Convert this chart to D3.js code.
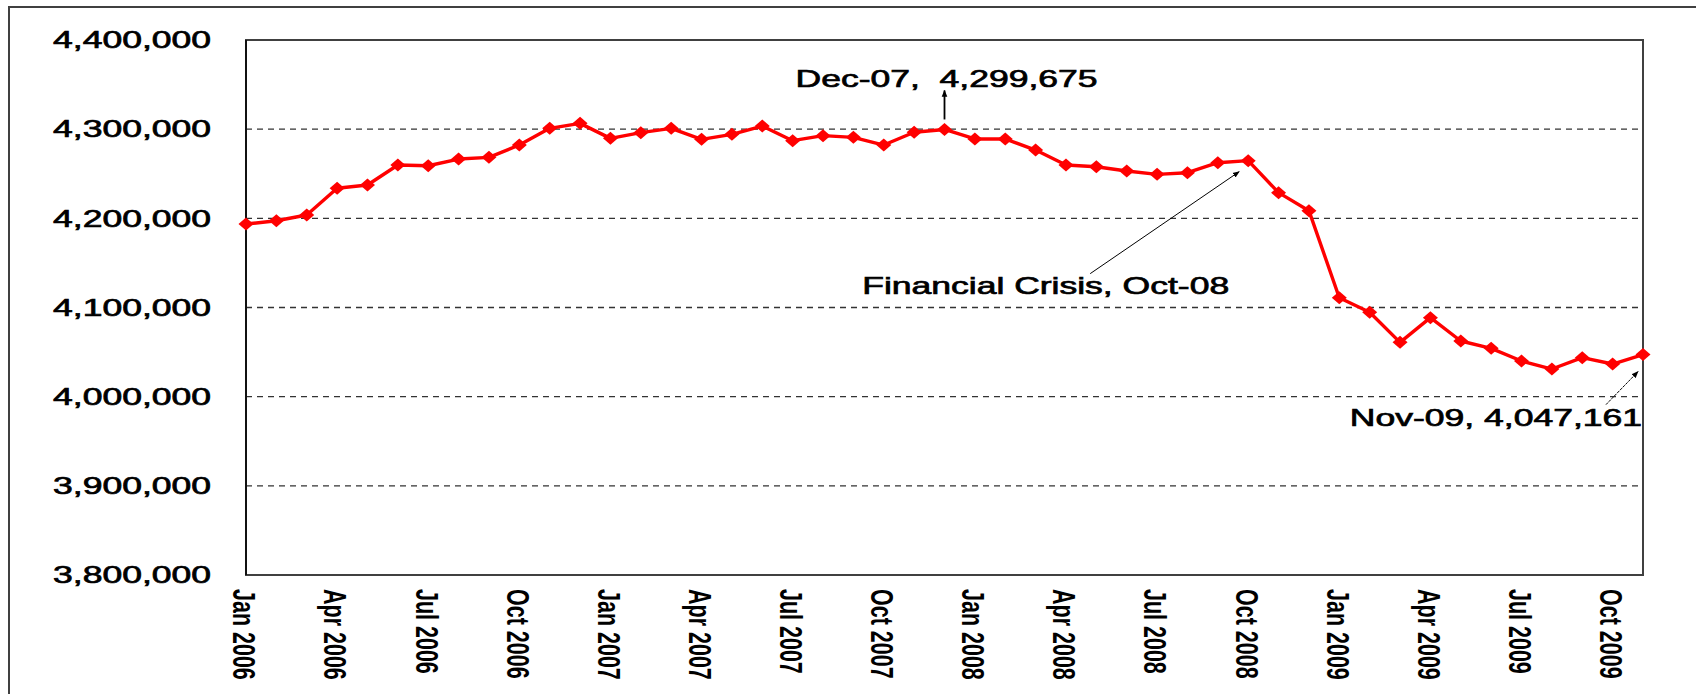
<!DOCTYPE html>
<html>
<head>
<meta charset="utf-8">
<script src="https://cdn.jsdelivr.net/npm/d3@7"></script>
<style>
  html, body { margin: 0; padding: 0; background: #fff; }
  svg { display: block; }
  text { font-family: "Liberation Sans", Arial, sans-serif; fill: #000; }
</style>
</head>
<body>
<svg id="chart" width="1696" height="694"></svg>
<script>
const months = [
  "Jan 2006","Feb 2006","Mar 2006","Apr 2006","May 2006","Jun 2006","Jul 2006","Aug 2006","Sep 2006","Oct 2006","Nov 2006","Dec 2006",
  "Jan 2007","Feb 2007","Mar 2007","Apr 2007","May 2007","Jun 2007","Jul 2007","Aug 2007","Sep 2007","Oct 2007","Nov 2007","Dec 2007",
  "Jan 2008","Feb 2008","Mar 2008","Apr 2008","May 2008","Jun 2008","Jul 2008","Aug 2008","Sep 2008","Oct 2008","Nov 2008","Dec 2008",
  "Jan 2009","Feb 2009","Mar 2009","Apr 2009","May 2009","Jun 2009","Jul 2009","Aug 2009","Sep 2009","Oct 2009","Nov 2009"
];
const values = [
  4193600, 4197300, 4203700, 4233700, 4237400, 4259800, 4259000, 4266500, 4268400, 4282200, 4300900, 4306500,
  4289700, 4296100, 4300900, 4288600, 4294200, 4303500, 4287100, 4292700, 4290800, 4282200, 4296500, 4299675,
  4289000, 4289000, 4276600, 4259800, 4257900, 4253100, 4249300, 4251200, 4262400, 4264700, 4228800, 4208600,
  4111000, 4094600, 4060900, 4088600, 4062400, 4054200, 4040000, 4031000, 4043700, 4036600, 4047161
];
const xTickLabels = [
  "Jan 2006","Apr 2006","Jul 2006","Oct 2006","Jan 2007","Apr 2007","Jul 2007","Oct 2007",
  "Jan 2008","Apr 2008","Jul 2008","Oct 2008","Jan 2009","Apr 2009","Jul 2009","Oct 2009"
];
const yTicks = [3800000, 3900000, 4000000, 4100000, 4200000, 4300000, 4400000];
const annotations = [
  { month: "Dec 2007", text: "Dec-07,  4,299,675" },
  { month: "Oct 2008", text: "Financial Crisis, Oct-08" },
  { month: "Nov 2009", text: "Nov-09, 4,047,161" }
];

const svg = d3.select("#chart");
const L = 246, R = 1643, T = 40, B = 575;
const SX = 1.48; // horizontal stretch of the original picture's text

const x = d3.scalePoint().domain(months).range([L, R]);
const y = d3.scaleLinear().domain([3800000, 4400000]).range([B, T]);

// outer frame
svg.append("rect").attr("x", 9).attr("y", 7).attr("width", 1720).attr("height", 720)
  .attr("fill", "none").attr("stroke", "#404040").attr("stroke-width", 2);

// gridlines
svg.append("g").selectAll("line")
  .data(yTicks.filter(d => d > 3800000 && d < 4400000))
  .join("line")
  .attr("x1", L).attr("x2", R)
  .attr("y1", d => y(d)).attr("y2", d => y(d))
  .attr("stroke", "#333").attr("stroke-width", 1.3)
  .attr("stroke-dasharray", "6,5");

// plot frame
svg.append("rect").attr("x", L).attr("y", T).attr("width", R - L).attr("height", B - T)
  .attr("fill", "none").attr("stroke", "#404040").attr("stroke-width", 2);
svg.append("line").attr("x1", L).attr("x2", L).attr("y1", T).attr("y2", B)
  .attr("stroke", "#111").attr("stroke-width", 2);

function medium(sel) {
  sel.style("font-weight", "normal")
    .attr("stroke", "#000").attr("stroke-width", 0.7)
    .attr("fill", "#000");
}

// y axis
const gy = svg.append("g").attr("transform", `translate(${L},0)`)
  .call(d3.axisLeft(y).tickValues(yTicks).tickFormat(d3.format(",")).tickSize(0));
gy.select(".domain").remove();
gy.selectAll("text")
  .attr("x", 0)
  .attr("dy", "0.32em")
  .attr("transform", `translate(-35,0) scale(${SX},1)`)
  .style("font-size", "24px")
  .style("font-family", "'Liberation Sans', Arial, sans-serif")
  .call(medium);

// x axis
const gx = svg.append("g").attr("transform", `translate(0,${B})`)
  .call(d3.axisBottom(x).tickValues(xTickLabels).tickSize(0));
gx.select(".domain").remove();
gx.selectAll("text")
  .attr("x", 0).attr("y", 0).attr("dy", "0.35em")
  .attr("text-anchor", "start")
  .attr("transform", `translate(-2,14) scale(${SX},1) rotate(90)`)
  .style("font-size", "21.5px")
  .style("font-family", "'Liberation Sans', Arial, sans-serif")
  .style("font-weight", "bold")
  .attr("fill", "#000");

// line
const line = d3.line().x((d, i) => x(months[i])).y(d => y(d));
svg.append("path").datum(values)
  .attr("d", line)
  .attr("fill", "none").attr("stroke", "#ff0000").attr("stroke-width", 3.4)
  .attr("stroke-linejoin", "round");

// diamond markers
svg.append("g").selectAll("path")
  .data(values)
  .join("path")
  .attr("transform", (d, i) => `translate(${x(months[i])},${y(d)})`)
  .attr("d", "M0,-6.5L7.5,0L0,6.5L-7.5,0Z")
  .attr("fill", "#ff0000");

// arrow marker
const defs = svg.append("defs");
defs.append("marker").attr("id", "arr").attr("viewBox", "0 0 10 10")
  .attr("refX", 9).attr("refY", 5).attr("markerWidth", 7).attr("markerHeight", 7)
  .attr("orient", "auto-start-reverse").attr("markerUnits", "userSpaceOnUse")
  .append("path").attr("d", "M0,1L10,5L0,9Z").attr("fill", "#000");

const val = m => values[months.indexOf(m)];

// Dec-07 annotation
{
  const a = annotations[0];
  const px = x(a.month), py = y(val(a.month));
  svg.append("line").attr("x1", px).attr("x2", px).attr("y1", py - 10).attr("y2", py - 39)
    .attr("stroke", "#000").attr("stroke-width", 1.8).attr("marker-end", "url(#arr)");
  svg.append("text").attr("transform", `translate(${px - 149},${py - 42}) scale(${SX},1)`)
    .style("white-space", "pre").style("font-size", "24px").text(a.text).call(medium);
}
// Financial crisis annotation
{
  const a = annotations[1];
  const px = x(a.month), py = y(val(a.month));
  svg.append("line").attr("x1", px - 158).attr("x2", px - 9).attr("y1", py + 113).attr("y2", py + 11)
    .attr("stroke", "#000").attr("stroke-width", 1).attr("marker-end", "url(#arr)");
  svg.append("text").attr("transform", `translate(${px - 386},${py + 133}) scale(${SX},1)`)
    .style("font-size", "24px").text(a.text).call(medium);
}
// Nov-09 annotation
{
  const a = annotations[2];
  const px = x(a.month), py = y(val(a.month));
  svg.append("line").attr("x1", px - 37).attr("x2", px - 5).attr("y1", py + 50).attr("y2", py + 17)
    .attr("stroke", "#000").attr("stroke-width", 1).attr("stroke-dasharray", "3,1").attr("marker-end", "url(#arr)");
  svg.append("text").attr("text-anchor", "end")
    .attr("transform", `translate(${px - 1},${py + 71}) scale(${SX},1)`)
    .style("font-size", "24px").text(a.text).call(medium);
}
</script>
</body>
</html>
